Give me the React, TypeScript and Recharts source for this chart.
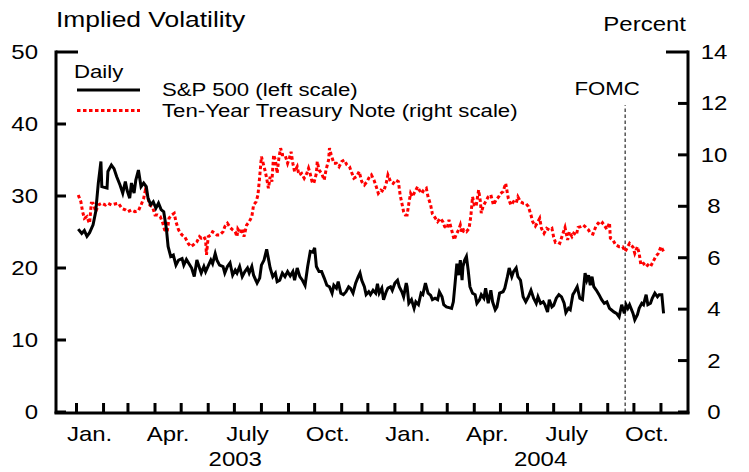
import { LineChart, Line, XAxis, YAxis, ReferenceLine, Legend } from 'recharts';

// day numbers count from Jan 1, 2003
const spDays = [
  2, 6, 9, 12, 15, 19, 22, 25, 28, 29, 35, 36, 40, 43, 46, 50, 53, 56, 58, 61,
  63, 66, 68, 71, 74, 77, 80, 82, 85, 88, 91, 94, 97, 100, 103, 105, 108, 111, 114, 117,
  121, 123, 126, 129, 132, 135, 138, 141, 143, 146, 148, 151, 154, 156, 159, 161, 164, 168, 170, 173,
  176, 179, 182, 184, 187, 190, 193, 196, 198, 201, 203, 207, 210, 212, 215, 218, 220, 222, 225, 228,
  230, 233, 236, 239, 242, 245, 248, 250, 253, 256, 259, 262, 265, 268, 271, 273, 275, 278, 281, 284,
  287, 290, 293, 295, 298, 300, 303, 306, 309, 312, 314, 317, 320, 323, 325, 327, 330, 332, 335, 337,
  340, 343, 345, 347, 350, 352, 355, 357, 360, 362, 365, 368, 370, 373, 375, 378, 379, 381, 384, 387,
  389, 392, 395, 397, 400, 403, 406, 408, 411, 414, 416, 419, 421, 424, 427, 430, 432, 434, 436, 438,
  440, 442, 443, 445, 447, 449, 451, 454, 457, 459, 462, 464, 467, 469, 472, 475, 477, 480, 482, 485,
  489, 491, 494, 496, 499, 501, 504, 506, 509, 512, 515, 518, 521, 524, 527, 529, 532, 535, 537, 540,
  542, 545, 547, 550, 553, 556, 559, 561, 564, 566, 569, 571, 574, 577, 580, 583, 585, 587, 589, 591,
  593, 596, 599, 602, 605, 608, 611, 613, 616, 619, 622, 625, 628, 630, 632, 634, 638, 640, 643, 645,
  648, 650, 653, 655, 658, 660, 663, 666, 668, 671, 673,
];
const spVals = [
  25.4, 24.8, 25.2, 24.4, 24.9, 26, 27.8, 31.8, 34.8, 31.3, 31.1, 33.4, 34.3, 33.8, 32.7, 31.5, 30.4, 32, 30.8, 29.7,
  31.8, 30.4, 32.2, 33.6, 31.3, 31.8, 31.3, 29.7, 28.8, 29.2, 28.3, 29, 28.1, 27.8, 25.5, 23, 21.6, 21.8, 20.4, 21.1,
  21.3, 20.4, 21.2, 20.6, 20, 18.8, 21.1, 20, 19.3, 20.2, 19.5, 20.3, 21.1, 20.6, 22, 21.1, 20.4, 20.2, 19.3, 20.2,
  20.7, 19, 19.7, 19.3, 20.2, 18.8, 19.5, 20, 19.3, 20.2, 19, 17.9, 18.6, 20.4, 21.1, 22.6, 21.3, 20, 18.8, 19.3,
  18.1, 18.3, 19.3, 18.8, 19.5, 18.9, 19.5, 18.3, 20, 18.8, 18.3, 17.6, 20.2, 22.3, 22.2, 22.8, 20.2, 19.5, 19.5, 18.6,
  17.6, 17.4, 16.5, 17.6, 17.2, 18.1, 16.5, 16.3, 16.7, 17.4, 17.2, 16.5, 17.9, 18.8, 19.3, 18.3, 17.4, 16.3, 16.7, 16.3,
  16.9, 16.5, 17.8, 16.5, 17.2, 15.6, 16.7, 17.2, 17.4, 16.9, 17.9, 18.3, 17.4, 16.7, 16, 17.9, 17.4, 15.1, 15.6, 14.4,
  15.3, 14.9, 16.5, 16.3, 17.9, 16.5, 16.2, 15.6, 15.8, 15.6, 16.7, 16, 14.9, 14.6, 14.5, 14.4, 15.3, 17.9, 20.6, 19,
  21.1, 18.3, 20.2, 21.1, 21.6, 19.7, 17.4, 16.5, 16.3, 15.1, 15.6, 16.3, 15.8, 17.2, 15.1, 16.9, 15.3, 14.2, 14.6, 16.5,
  16.7, 17.2, 18.8, 20, 18.8, 19.5, 20, 18.8, 18.3, 16, 15.3, 16, 16.9, 15.8, 15.1, 16, 15.1, 15.3, 14.9, 13.9,
  15.6, 14.6, 14.8, 15.8, 16.3, 16, 15.1, 13.8, 14.4, 14.2, 16.3, 16.7, 17.4, 15.8, 15.6, 19.3, 18.3, 19, 17.6, 18.8,
  17.4, 16.9, 16.3, 15.6, 15.1, 15.3, 14.4, 14.2, 13.9, 13.7, 13.2, 14.9, 13.7, 14.9, 14.4, 14.9, 13.7, 12.8, 13.5, 14.4,
  15.1, 14.9, 16.3, 14.9, 15.1, 15.8, 16.5, 16, 16.3, 16.3, 13.7,
];

const tnDays = [
  2, 5, 7, 9, 12, 14, 15, 17, 19, 22, 25, 29, 33, 36, 40, 44, 48, 52, 56, 59,
  63, 67, 71, 74, 77, 79, 81, 84, 87, 90, 93, 96, 99, 101, 104, 106, 109, 112, 114, 117,
  121, 124, 128, 131, 134, 138, 141, 143, 146, 148, 149, 151, 154, 156, 159, 161, 164, 168, 170, 173,
  176, 179, 182, 184, 185, 188, 190, 192, 195, 198, 201, 203, 206, 208, 210, 212, 214, 216, 218, 220,
  222, 224, 226, 228, 230, 232, 234, 236, 239, 242, 244, 246, 248, 250, 253, 255, 258, 261, 264, 266,
  268, 270, 272, 275, 276, 278, 281, 284, 286, 289, 290, 292, 295, 298, 301, 304, 307, 310, 313, 315,
  318, 321, 324, 327, 330, 333, 336, 338, 341, 343, 346, 349, 352, 355, 357, 360, 363, 366, 369, 371,
  373, 375, 377, 379, 381, 383, 385, 388, 391, 393, 396, 398, 401, 403, 406, 408, 411, 414, 417, 420,
  422, 425, 427, 430, 433, 435, 438, 440, 442, 444, 447, 450, 452, 454, 456, 458, 461, 463, 464, 466,
  469, 472, 475, 478, 481, 484, 486, 489, 492, 495, 498, 501, 504, 506, 509, 512, 515, 518, 521, 523,
  526, 528, 531, 533, 536, 539, 542, 545, 547, 549, 551, 554, 557, 560, 563, 565, 568, 570, 573, 575,
  578, 581, 584, 587, 589, 592, 596, 598, 601, 603, 606, 608, 611, 612, 615, 618, 622, 626, 629, 631,
  634, 638, 640, 643, 645, 647, 650, 653, 655, 658, 661, 664, 667, 670, 673,
];
const tnVals = [
  8.44, 8.18, 7.79, 7.53, 7.6, 7.4, 7.34, 8.12, 8.12, 7.79, 8.05, 8.12, 8.05, 8.12, 8.05, 8.09, 8.12, 7.92, 7.86, 7.79,
  7.86, 7.79, 7.83, 8.05, 8.31, 8.63, 8.44, 8.05, 7.99, 7.66, 7.66, 7.6, 7.34, 7.08, 7.01, 7.53, 7.66, 7.73, 7.4, 7.08,
  6.88, 6.82, 6.56, 6.43, 6.5, 6.62, 6.82, 6.76, 6.82, 6.69, 6.11, 6.82, 6.88, 7.01, 6.95, 6.88, 6.88, 7.01, 7.21, 7.34,
  7.18, 7.08, 7.01, 6.82, 7.11, 6.95, 7.14, 6.82, 7.27, 7.4, 7.6, 8.05, 8.18, 8.44, 9.15, 9.93, 9.67, 9.41, 9.09, 8.7,
  9.15, 8.96, 10, 9.8, 9.28, 9.87, 10.26, 10, 10, 9.67, 9.87, 10.12, 9.67, 9.35, 9.54, 9.22, 9.28, 9.09, 9.28, 9.48,
  9.25, 8.96, 8.89, 9.28, 9.74, 9.41, 9.28, 9.02, 9.41, 9.8, 10.26, 10, 9.67, 9.67, 9.54, 9.74, 9.8, 9.61, 9.54, 9.35,
  9.09, 9.15, 9.35, 8.96, 8.83, 8.96, 9.15, 9.22, 9.02, 8.83, 8.5, 8.63, 8.57, 8.89, 9.22, 8.96, 8.89, 9.02, 8.96, 8.44,
  8.12, 7.79, 7.66, 7.66, 8.12, 8.5, 8.37, 8.57, 8.76, 8.63, 8.5, 8.63, 8.7, 8.37, 8.05, 7.7, 7.56, 7.4, 7.53, 7.4,
  7.21, 7.14, 7.47, 7.08, 6.69, 6.88, 7.08, 7.27, 6.95, 7.08, 7.01, 7.14, 7.6, 8.37, 8.05, 7.99, 8.63, 8.18, 7.73, 7.99,
  8.18, 8.37, 8.44, 8.05, 8.25, 8.37, 8.5, 8.57, 8.89, 8.31, 8.05, 8.18, 8.12, 8.37, 8.18, 8.12, 8.12, 7.99, 7.66, 7.4,
  7.23, 7.34, 7.53, 7.14, 6.95, 7.14, 7.08, 7.14, 6.8, 6.6, 6.62, 6.56, 6.88, 7.18, 6.69, 7.01, 6.82, 6.95, 6.88, 7.18,
  7.21, 7.27, 7.18, 7.08, 6.95, 6.92, 7.27, 7.34, 7.27, 7.36, 7.21, 7.11, 7.36, 6.76, 6.69, 6.5, 6.43, 6.43, 6.24, 6.37,
  6.56, 6.41, 6.17, 6.43, 6.17, 5.72, 5.78, 5.65, 5.72, 5.65, 5.85, 6.04, 6.17, 6.43, 6.24,
];

const seriesNames = ['S&P 500 (left scale)', 'Ten-Year Treasury Note (right scale)'];

const monthStarts = [0, 31, 59, 90, 120, 151, 181, 212, 243, 273, 304, 334, 365, 396, 425, 456, 486, 517, 547, 578, 609, 639, 670];
const monthLabelDays = [15, 105, 196, 288, 380, 471, 562, 654];
const monthLabels = ['Jan.', 'Apr.', 'July', 'Oct.', 'Jan.', 'Apr.', 'July', 'Oct.'];
const yearDays = [182, 532];
const yearLabels = ['2003', '2004'];
const leftTicks = [0, 10, 20, 30, 40, 50];
const rightTicks = [0, 2, 4, 6, 8, 10, 12, 14];
const fomcDay = 629;

const spData = spDays.map((d, i) => ({ day: d, v: spVals[i] }));
const tnData = tnDays.map((d, i) => ({ day: d, v: tnVals[i] }));

const xDomain = [-23.5, 701];
const FONT = '"Liberation Sans", Arial, Helvetica, sans-serif';

function Txt({ x, y, anchor = 'start', size = 20, children }: any) {
  return (
    <g transform={`translate(${x},${y}) scale(1.2,1)`}>
      <text x={0} y={0} textAnchor={anchor} fontSize={size} fontFamily={FONT} fill="#000">
        {children}
      </text>
    </g>
  );
}

function LeftTick({ x, y, payload }: any) {
  const len = payload.value === leftTicks[leftTicks.length - 1] ? 22 : 10;
  return (
    <g>
      <line x1={x} y1={y} x2={x + len} y2={y} stroke="#000" strokeWidth={3} />
      <Txt x={x - 18} y={y + 7} anchor="end">{payload.value}</Txt>
    </g>
  );
}

function RightTick({ x, y, payload }: any) {
  const len = payload.value === rightTicks[rightTicks.length - 1] ? 22 : 10;
  return (
    <g>
      <line x1={x} y1={y} x2={x - len} y2={y} stroke="#000" strokeWidth={3} />
      <Txt x={x + 26} y={y + 7} anchor="middle">{payload.value}</Txt>
    </g>
  );
}

// the month axis sits on the plot's bottom edge
function MonthTick({ x, y }: any) {
  return <line x1={x} y1={y} x2={x} y2={y - 10} stroke="#000" strokeWidth={3} />;
}

// label axis sits 1px below, year axis 2px below
function MonthLabel({ x, y, payload }: any) {
  const i = monthLabelDays.indexOf(payload.value);
  return <Txt x={x} y={y + 29} anchor="middle">{monthLabels[i]}</Txt>;
}

function YearLabel({ x, y, payload }: any) {
  const i = yearDays.indexOf(payload.value);
  return <Txt x={x} y={y + 52} anchor="middle">{yearLabels[i]}</Txt>;
}

function FomcLabel({ viewBox }: any) {
  return <Txt x={viewBox.x - 18} y={viewBox.y - 10} anchor="middle" size={18.5}>FOMC</Txt>;
}

function LegendBox() {
  return (
    <svg width={749} height={130} style={{ display: 'block' }}>
      <Txt x={56} y={27} size={22}>Implied Volatility</Txt>
      <Txt x={686} y={31} anchor="end" size={20}>Percent</Txt>
      <Txt x={74} y={78} size={18.5}>Daily</Txt>
      <line x1={77} y1={90} x2={140} y2={90} stroke="#000" strokeWidth={3} />
      <Txt x={162} y={96} size={18.5}>{seriesNames[0]}</Txt>
      <line x1={77} y1={110.5} x2={140} y2={110.5} stroke="#ff0000" strokeWidth={3} strokeDasharray="3.5 2.5" />
      <Txt x={162} y={116.5} size={18.5}>{seriesNames[1]}</Txt>
    </svg>
  );
}

export default function App() {
  const axisLine = { stroke: '#000', strokeWidth: 3, strokeLinecap: 'square' as const };
  return (
    <div style={{ position: 'absolute', left: 0, top: 0, background: '#fff' }}>
      <LineChart width={749} height={472} margin={{ top: 52, right: 0, bottom: 0, left: 0 }}>
        <XAxis
          xAxisId="m"
          dataKey="day"
          type="number"
          domain={xDomain}
          allowDataOverflow
          ticks={monthStarts}
          interval={0}
          height={1}
          tickSize={0}
          tickMargin={0}
          tickLine={false}
          axisLine={axisLine}
          tick={<MonthTick />}
        />
        <XAxis
          xAxisId="lab"
          dataKey="day"
          type="number"
          domain={xDomain}
          allowDataOverflow
          ticks={monthLabelDays}
          interval={0}
          height={1}
          tickSize={0}
          tickMargin={0}
          tickLine={false}
          axisLine={false}
          tick={<MonthLabel />}
        />
        <XAxis
          xAxisId="yr"
          dataKey="day"
          type="number"
          domain={xDomain}
          allowDataOverflow
          ticks={yearDays}
          interval={0}
          height={58}
          tickSize={0}
          tickMargin={0}
          tickLine={false}
          axisLine={false}
          tick={<YearLabel />}
        />
        <YAxis
          yAxisId="l"
          domain={[0, 50]}
          allowDataOverflow
          ticks={leftTicks}
          interval={0}
          width={56}
          tickSize={0}
          tickMargin={0}
          tickLine={false}
          axisLine={axisLine}
          tick={<LeftTick />}
        />
        <YAxis
          yAxisId="r"
          orientation="right"
          domain={[0, 14]}
          allowDataOverflow
          ticks={rightTicks}
          interval={0}
          width={61}
          tickSize={0}
          tickMargin={0}
          tickLine={false}
          axisLine={axisLine}
          tick={<RightTick />}
        />
        <ReferenceLine
          xAxisId="m"
          yAxisId="l"
          segment={[{ x: fomcDay, y: 0 }, { x: fomcDay, y: 42.6 }]}
          stroke="#555"
          strokeWidth={1.5}
          strokeDasharray="3.5 2.5"
          label={<FomcLabel />}
        />
        <Line
          xAxisId="m"
          yAxisId="r"
          data={tnData}
          dataKey="v"
          name={seriesNames[1]}
          stroke="#ff0000"
          strokeWidth={3}
          strokeDasharray="3.5 2.5"
          dot={false}
          activeDot={false}
          isAnimationActive={false}
        />
        <Line
          xAxisId="m"
          yAxisId="l"
          data={spData}
          dataKey="v"
          name={seriesNames[0]}
          stroke="#000"
          strokeWidth={3}
          dot={false}
          activeDot={false}
          isAnimationActive={false}
        />
        <Legend
          layout="horizontal"
          verticalAlign="middle"
          align="center"
          wrapperStyle={{ left: 0, top: 0, width: 749, height: 130 }}
          content={<LegendBox />}
        />
      </LineChart>
    </div>
  );
}
